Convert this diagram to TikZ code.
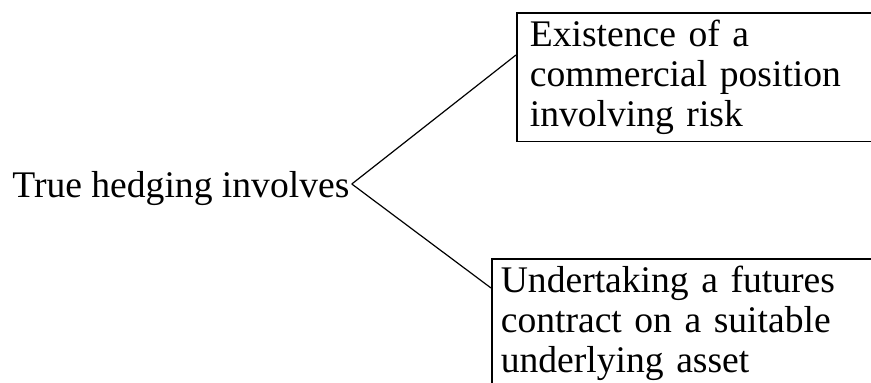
\documentclass[tikz,border=0pt]{standalone}
\usepackage{fontspec}
\setmainfont{Liberation Serif}
\usetikzlibrary{positioning}

\tikzset{
  leafbox/.style={draw, line width=0.8pt, rectangle, anchor=north west, align=left,
    text width=190pt, inner ysep=3.5pt, font=\fontsize{18.8}{20}\selectfont},
  branch/.style={line width=0.6pt}
}

\begin{document}
\begin{tikzpicture}[x=0.5pt, y=-0.5pt]
  \useasboundingbox (0,0) rectangle (871,383);
  \clip (0,0) rectangle (871,383);

  % Root statement
  \node[anchor=base west, inner sep=0pt, font=\fontsize{18.8}{20}\selectfont] (hedge) at (12,198) {True hedging involves};
  \coordinate (fork) at ([shift={(1pt,7pt)}]hedge.base east);

  % Two requirements
  \node[leafbox, inner xsep=6.5pt] (position) at (516,12) {Existence of a\\commercial position\\involving risk};
  \node[leafbox, inner xsep=4.5pt] (contract) at (491,258) {Undertaking a futures\\contract on a suitable\\underlying asset};

  % Branches
  \draw[branch] (fork) -- ([yshift=-21.5pt]position.north west);
  \draw[branch] (fork) -- ([yshift=-15pt]contract.north west);
\end{tikzpicture}
\end{document}
